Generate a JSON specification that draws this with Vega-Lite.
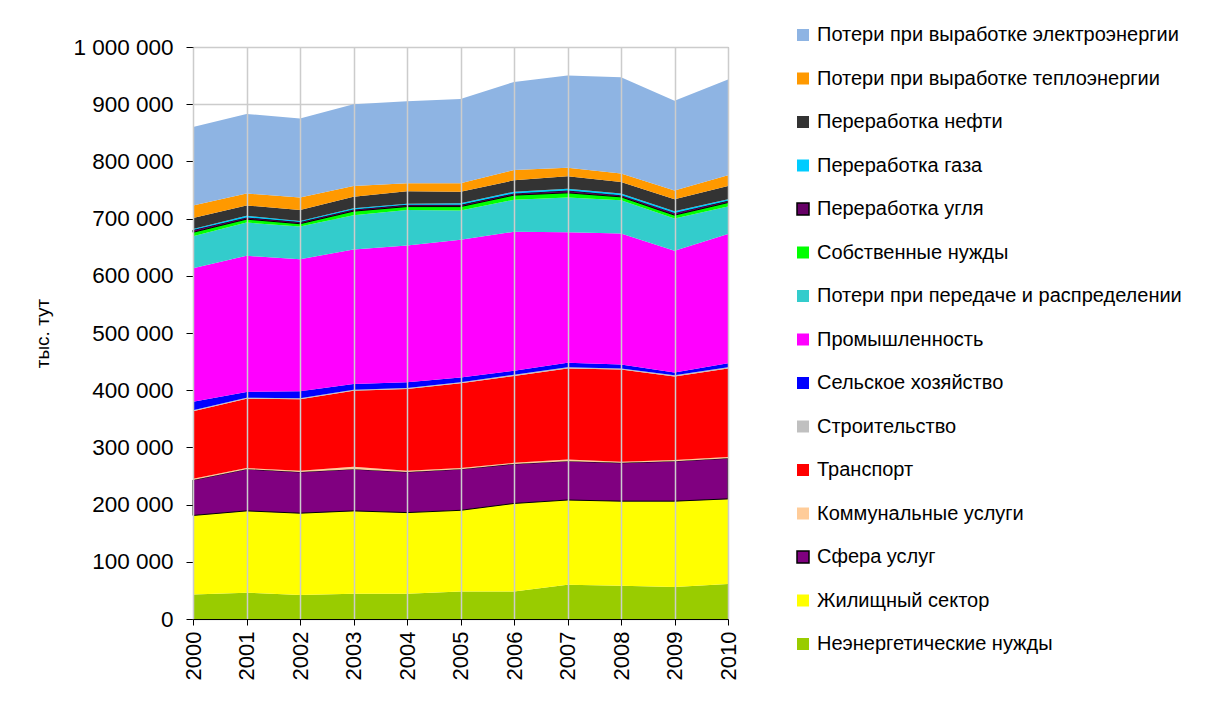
{
  "$schema": "https://vega.github.io/schema/vega-lite/v6.json",
  "autosize": {"type": "none"},
  "padding": {"left": 193, "top": 47, "right": 493, "bottom": 83},
  "width": 535,
  "height": 572,
  "background": "white",
  "config": {
    "font": "Liberation Sans",
    "locale": {"number": {"decimal": ",", "thousands": " ", "grouping": [3], "currency": ["", ""]}},
    "view": {"stroke": "#a0a0a0", "strokeWidth": 1}
  },
  "data": {
    "values": [
      {"year": 2000, "Неэнергетические нужды": 43000, "Жилищный сектор": 138000, "Сфера услуг": 62000, "Коммунальные услуги": 2000, "Транспорт": 118000, "Строительство": 2000, "Сельское хозяйство": 15000, "Промышленность": 233000, "Потери при передаче и распределении": 56000, "Собственные нужды": 7000, "Переработка угля": 4000, "Переработка газа": 2000, "Переработка нефти": 19000, "Потери при выработке теплоэнергии": 22000, "Потери при выработке электроэнергии": 137000},
      {"year": 2001, "Неэнергетические нужды": 46000, "Жилищный сектор": 143000, "Сфера услуг": 73000, "Коммунальные услуги": 2000, "Транспорт": 121000, "Строительство": 2000, "Сельское хозяйство": 10000, "Промышленность": 238000, "Потери при передаче и распределении": 58000, "Собственные нужды": 6000, "Переработка угля": 3000, "Переработка газа": 3000, "Переработка нефти": 18000, "Потери при выработке теплоэнергии": 21000, "Потери при выработке электроэнергии": 139000},
      {"year": 2002, "Неэнергетические нужды": 42000, "Жилищный сектор": 143000, "Сфера услуг": 72000, "Коммунальные услуги": 2000, "Транспорт": 125000, "Строительство": 2000, "Сельское хозяйство": 12000, "Промышленность": 231000, "Потери при передаче и распределении": 57000, "Собственные нужды": 5000, "Переработка угля": 3000, "Переработка газа": 2000, "Переработка нефти": 19000, "Потери при выработке теплоэнергии": 22000, "Потери при выработке электроэнергии": 138000},
      {"year": 2003, "Неэнергетические нужды": 44000, "Жилищный сектор": 145000, "Сфера услуг": 73000, "Коммунальные услуги": 4000, "Транспорт": 133000, "Строительство": 2000, "Сельское хозяйство": 10000, "Промышленность": 235000, "Потери при передаче и распределении": 60000, "Собственные нужды": 7000, "Переработка угля": 3000, "Переработка газа": 2000, "Переработка нефти": 20000, "Потери при выработке теплоэнергии": 19000, "Потери при выработке электроэнергии": 143000},
      {"year": 2004, "Неэнергетические нужды": 44000, "Жилищный сектор": 142000, "Сфера услуг": 71000, "Коммунальные услуги": 2000, "Транспорт": 143000, "Строительство": 2000, "Сельское хозяйство": 10000, "Промышленность": 239000, "Потери при передаче и распределении": 62000, "Собственные нужды": 6000, "Переработка угля": 3000, "Переработка газа": 2000, "Переработка нефти": 22000, "Потери при выработке теплоэнергии": 14000, "Потери при выработке электроэнергии": 143000},
      {"year": 2005, "Неэнергетические нужды": 48000, "Жилищный сектор": 142000, "Сфера услуг": 72000, "Коммунальные услуги": 2000, "Транспорт": 148000, "Строительство": 2000, "Сельское хозяйство": 8000, "Промышленность": 241000, "Потери при передаче и распределении": 51000, "Собственные нужды": 7000, "Переработка угля": 3000, "Переработка газа": 3000, "Переработка нефти": 20000, "Потери при выработке теплоэнергии": 15000, "Потери при выработке электроэнергии": 147000},
      {"year": 2006, "Неэнергетические нужды": 48000, "Жилищный сектор": 154000, "Сфера услуг": 69000, "Коммунальные услуги": 2000, "Транспорт": 152000, "Строительство": 2000, "Сельское хозяйство": 7000, "Промышленность": 243000, "Потери при передаче и распределении": 56000, "Собственные нужды": 8000, "Переработка угля": 3000, "Переработка газа": 3000, "Переработка нефти": 20000, "Потери при выработке теплоэнергии": 18000, "Потери при выработке электроэнергии": 154000},
      {"year": 2007, "Неэнергетические нужды": 60000, "Жилищный сектор": 148000, "Сфера услуг": 68000, "Коммунальные услуги": 3000, "Транспорт": 159000, "Строительство": 2000, "Сельское хозяйство": 8000, "Промышленность": 228000, "Потери при передаче и распределении": 61000, "Собственные нужды": 8000, "Переработка угля": 4000, "Переработка газа": 3000, "Переработка нефти": 22000, "Потери при выработке теплоэнергии": 15000, "Потери при выработке электроэнергии": 161000},
      {"year": 2008, "Неэнергетические нужды": 58000, "Жилищный сектор": 148000, "Сфера услуг": 67000, "Коммунальные услуги": 2000, "Транспорт": 161000, "Строительство": 2000, "Сельское хозяйство": 7000, "Промышленность": 229000, "Потери при передаче и распределении": 58000, "Собственные нужды": 6000, "Переработка угля": 3000, "Переработка газа": 3000, "Переработка нефти": 20000, "Потери при выработке теплоэнергии": 15000, "Потери при выработке электроэнергии": 168000},
      {"year": 2009, "Неэнергетические нужды": 56000, "Жилищный сектор": 150000, "Сфера услуг": 70000, "Коммунальные услуги": 2000, "Транспорт": 146000, "Строительство": 2000, "Сельское хозяйство": 5000, "Промышленность": 213000, "Потери при передаче и распределении": 56000, "Собственные нужды": 6000, "Переработка угля": 4000, "Переработка газа": 3000, "Переработка нефти": 21000, "Потери при выработке теплоэнергии": 15000, "Потери при выработке электроэнергии": 157000},
      {"year": 2010, "Неэнергетические нужды": 61000, "Жилищный сектор": 149000, "Сфера услуг": 71000, "Коммунальные услуги": 2000, "Транспорт": 155000, "Строительство": 2000, "Сельское хозяйство": 7000, "Промышленность": 226000, "Потери при передаче и распределении": 48000, "Собственные нужды": 7000, "Переработка угля": 3000, "Переработка газа": 3000, "Переработка нефти": 23000, "Потери при выработке теплоэнергии": 19000, "Потери при выработке электроэнергии": 167000}
    ]
  },
  "transform": [
    {"fold": ["Неэнергетические нужды", "Жилищный сектор", "Сфера услуг", "Коммунальные услуги", "Транспорт", "Строительство", "Сельское хозяйство", "Промышленность", "Потери при передаче и распределении", "Собственные нужды", "Переработка угля", "Переработка газа", "Переработка нефти", "Потери при выработке теплоэнергии", "Потери при выработке электроэнергии"], "as": ["s", "v"]},
    {"calculate": "indexof(['Неэнергетические нужды', 'Жилищный сектор', 'Сфера услуг', 'Коммунальные услуги', 'Транспорт', 'Строительство', 'Сельское хозяйство', 'Промышленность', 'Потери при передаче и распределении', 'Собственные нужды', 'Переработка угля', 'Переработка газа', 'Переработка нефти', 'Потери при выработке теплоэнергии', 'Потери при выработке электроэнергии'], datum.s)", "as": "o"}
  ],
  "mark": {"type": "area", "strokeWidth": 1, "opacity": 1},
  "encoding": {
    "x": {
      "field": "year", "type": "quantitative",
      "scale": {"domain": [2000, 2010], "nice": false, "zero": false},
      "axis": {
        "values": [2000, 2001, 2002, 2003, 2004, 2005, 2006, 2007, 2008, 2009, 2010],
        "format": "d", "labelAngle": -90, "labelAlign": "right", "labelBaseline": "middle",
        "labelFontSize": 22, "labelColor": "black", "labelPadding": 6, "labelFont": "Liberation Sans",
        "title": null, "domainColor": "black", "tickColor": "black", "tickSize": 6,
        "grid": true, "gridColor": "#cccccc", "gridWidth": 1.5, "zindex": 1, "labelFlush": false, "labelOverlap": false
      }
    },
    "y": {
      "field": "v", "type": "quantitative", "stack": "zero",
      "scale": {"domain": [0, 1000000], "nice": false},
      "axis": {
        "values": [0, 100000, 200000, 300000, 400000, 500000, 600000, 700000, 800000, 900000, 1000000],
        "format": ",.0f", "labelFontSize": 22.5, "labelColor": "black", "labelPadding": 13, "labelFont": "Liberation Sans",
        "title": "тыс. тут", "titleFontSize": 19, "titleFontWeight": "normal", "titleColor": "black", "titlePadding": 20, "titleFont": "Liberation Sans",
        "domainColor": "black", "tickColor": "black", "tickSize": 7,
        "grid": true, "gridColor": "#cccccc", "gridWidth": 1.5, "zindex": 0
      }
    },
    "order": {"field": "o", "type": "quantitative", "sort": "ascending"},
    "color": {
      "field": "s", "type": "nominal",
      "scale": {
        "domain": ["Потери при выработке электроэнергии", "Потери при выработке теплоэнергии", "Переработка нефти", "Переработка газа", "Переработка угля", "Собственные нужды", "Потери при передаче и распределении", "Промышленность", "Сельское хозяйство", "Строительство", "Транспорт", "Коммунальные услуги", "Сфера услуг", "Жилищный сектор", "Неэнергетические нужды"],
        "range": ["#8eb4e3", "#ff9900", "#333333", "#00ccff", "#660066", "#00ff00", "#33cccc", "#ff00ff", "#0000ff", "#c0c0c0", "#ff0000", "#ffcc99", "#800080", "#ffff00", "#99cc00"]
      },
      "legend": {
        "orient": "none", "legendX": 600, "legendY": -22, "title": null, "direction": "vertical",
        "symbolType": "square", "symbolSize": 144, "symbolStrokeWidth": 1.5, "symbolOpacity": 1,
        "labelFontSize": 20, "labelFont": "Liberation Sans", "labelColor": "black", "labelOffset": 4,
        "rowPadding": 23.5, "padding": 0, "labelLimit": 500
      }
    },
    "stroke": {
      "field": "s", "type": "nominal",
      "scale": {
        "domain": ["Потери при выработке электроэнергии", "Потери при выработке теплоэнергии", "Переработка нефти", "Переработка газа", "Переработка угля", "Собственные нужды", "Потери при передаче и распределении", "Промышленность", "Сельское хозяйство", "Строительство", "Транспорт", "Коммунальные услуги", "Сфера услуг", "Жилищный сектор", "Неэнергетические нужды"],
        "range": ["transparent", "transparent", "transparent", "transparent", "black", "transparent", "transparent", "transparent", "transparent", "transparent", "transparent", "transparent", "black", "transparent", "transparent"]
      },
      "legend": {
        "orient": "none", "legendX": 600, "legendY": -22, "title": null, "direction": "vertical",
        "symbolType": "square", "symbolSize": 144, "symbolStrokeWidth": 1.5, "symbolOpacity": 1,
        "labelFontSize": 20, "labelFont": "Liberation Sans", "labelColor": "black", "labelOffset": 4,
        "rowPadding": 23.5, "padding": 0, "labelLimit": 500
      }
    }
  }
}
